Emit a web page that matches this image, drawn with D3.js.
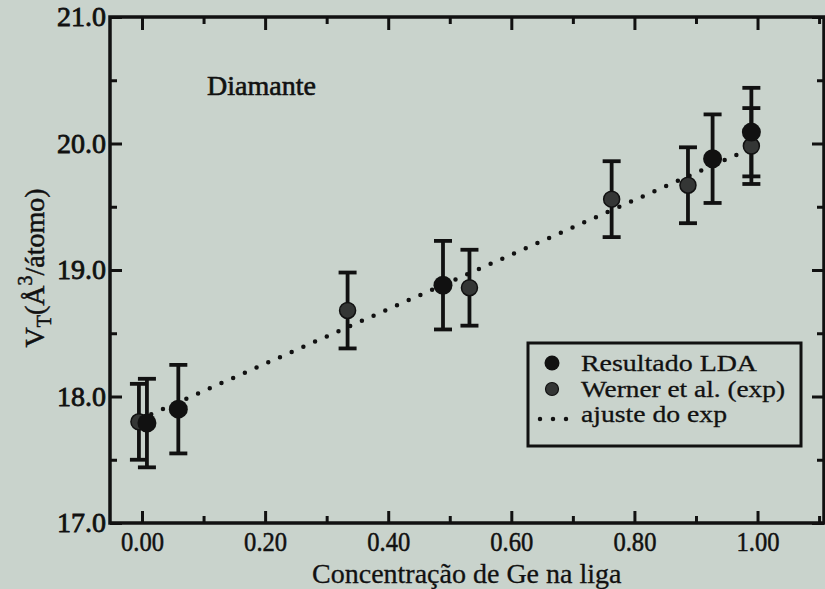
<!DOCTYPE html>
<html>
<head>
<meta charset="utf-8">
<script src="https://cdn.jsdelivr.net/npm/d3@7"></script>
<style>
  html, body { margin: 0; padding: 0; background: #c9d3cc; }
  svg { display: block; }
  text { font-family: "Liberation Serif", "Times New Roman", serif; fill: #111; }
</style>
</head>
<body>
<svg id="chart" width="825" height="589"></svg>
<script>
// Volume per atom vs. Ge concentration (diamond structure)
const ldaX   = [0.008, 0.059, 0.489, 0.927, 0.990];
const ldaY   = [17.79, 17.90, 18.88, 19.88, 20.09];
const ldaErr = [0.35, 0.35, 0.35, 0.35, 0.35];

const expX   = [-0.005, 0.334, 0.532, 0.763, 0.887, 0.990];
const expY   = [17.80, 18.68, 18.86, 19.56, 19.67, 19.98];
const expErr = [0.30, 0.30, 0.30, 0.30, 0.30, 0.30];

// linear fit of the experimental data (end points)
const fitX = [0.015, 0.975];
const fitY = [17.86, 19.93];

const xTicks = [0, 0.2, 0.4, 0.6, 0.8, 1.0];
const xMinor = [0.1, 0.3, 0.5, 0.7, 0.9, 1.1];
const yTicks = [17, 18, 19, 20, 21];
const yMinor = [17.5, 18.5, 19.5, 20.5];

const legendLabels = ["Resultado LDA", "Werner et al. (exp)", "ajuste do exp"];
const legendWidths = [176, 204, 146];

const svg = d3.select("#chart");
const L = 110, R = 824, T = 17, B = 523;

const x = d3.scaleLinear().domain([-0.052, 1.108]).range([L, R]);
const y = d3.scaleLinear().domain([17, 21]).range([B, T]);

const ink = "#111";
const expFill = "#343635";

function styleAxis(g) {
  g.select(".domain").remove();
  g.selectAll(".tick line").attr("stroke", ink).attr("stroke-width", 3);
}

// bottom axis with labels
const gx = svg.append("g").attr("transform", `translate(0,${B})`)
  .call(d3.axisBottom(x).tickValues(xTicks).tickSize(-12).tickPadding(9).tickFormat(d3.format(".2f")));
styleAxis(gx);
gx.selectAll(".tick text").attr("font-size", 27).attr("fill", ink)
  .attr("font-family", "Liberation Serif, serif")
  .attr("textLength", 43).attr("lengthAdjust", "spacingAndGlyphs")
  .attr("stroke", ink).attr("stroke-width", 0.5);

const gxm = svg.append("g").attr("transform", `translate(0,${B})`)
  .call(d3.axisBottom(x).tickValues(xMinor).tickSize(-7).tickFormat(""));
styleAxis(gxm);

// top axis
const gt = svg.append("g").attr("transform", `translate(0,${T})`)
  .call(d3.axisTop(x).tickValues(xTicks).tickSize(-13).tickFormat(""));
styleAxis(gt);
const gtm = svg.append("g").attr("transform", `translate(0,${T})`)
  .call(d3.axisTop(x).tickValues(xMinor).tickSize(-7).tickFormat(""));
styleAxis(gtm);

// left axis with labels
const gy = svg.append("g").attr("transform", `translate(${L},0)`)
  .call(d3.axisLeft(y).tickValues(yTicks).tickSize(-12).tickPadding(4).tickFormat(d3.format(".1f")));
styleAxis(gy);
gy.selectAll(".tick text").attr("font-size", 28).attr("fill", ink)
  .attr("font-family", "Liberation Serif, serif")
  .attr("stroke", ink).attr("stroke-width", 0.8);

const gym = svg.append("g").attr("transform", `translate(${L},0)`)
  .call(d3.axisLeft(y).tickValues(yMinor).tickSize(-7).tickFormat(""));
styleAxis(gym);

// right axis
const gr = svg.append("g").attr("transform", `translate(${R},0)`)
  .call(d3.axisRight(y).tickValues(yTicks).tickSize(-12).tickFormat(""));
styleAxis(gr);
const grm = svg.append("g").attr("transform", `translate(${R},0)`)
  .call(d3.axisRight(y).tickValues(yMinor).tickSize(-7).tickFormat(""));
styleAxis(grm);

// frame
svg.append("rect").attr("x", L).attr("y", T).attr("width", R - L).attr("height", B - T)
  .attr("fill", "none").attr("stroke", ink).attr("stroke-width", 3.5);

// fit line (dotted)
svg.append("line")
  .attr("x1", x(fitX[0])).attr("y1", y(fitY[0]))
  .attr("x2", x(fitX[1])).attr("y2", y(fitY[1]))
  .attr("stroke", ink).attr("stroke-width", 4.5)
  .attr("stroke-linecap", "round").attr("stroke-dasharray", "0 12.8");

// error bars
function errorBars(xs, ys, es, cls) {
  const data = xs.map((v, i) => ({ x: v, y: ys[i], e: es[i] }));
  const g = svg.append("g").attr("class", cls).attr("stroke", ink).attr("stroke-width", 3.8);
  g.selectAll("line.v").data(data).join("line").attr("class", "v")
    .attr("x1", d => x(d.x)).attr("x2", d => x(d.x))
    .attr("y1", d => y(d.y + d.e)).attr("y2", d => y(d.y - d.e));
  g.selectAll("line.top").data(data).join("line").attr("class", "top")
    .attr("x1", d => x(d.x) - 9).attr("x2", d => x(d.x) + 9)
    .attr("y1", d => y(d.y + d.e)).attr("y2", d => y(d.y + d.e));
  g.selectAll("line.bot").data(data).join("line").attr("class", "bot")
    .attr("x1", d => x(d.x) - 9).attr("x2", d => x(d.x) + 9)
    .attr("y1", d => y(d.y - d.e)).attr("y2", d => y(d.y - d.e));
  return data;
}
const expData = errorBars(expX, expY, expErr, "exp-err");
const ldaData = errorBars(ldaX, ldaY, ldaErr, "lda-err");

// markers
svg.append("g").selectAll("circle").data(expData).join("circle")
  .attr("cx", d => x(d.x)).attr("cy", d => y(d.y)).attr("r", 8)
  .attr("fill", expFill).attr("stroke", ink).attr("stroke-width", 1.5);
svg.append("g").selectAll("circle").data(ldaData).join("circle")
  .attr("cx", d => x(d.x)).attr("cy", d => y(d.y)).attr("r", 9.5)
  .attr("fill", ink);

// panel label
svg.append("text").attr("x", 207).attr("y", 95).attr("font-size", 28)
  .attr("stroke", ink).attr("stroke-width", 0.6).text("Diamante");

// axis titles
svg.append("text").attr("x", (x(0) + x(1)) / 2 + 17).attr("y", 583)
  .attr("text-anchor", "middle").attr("font-size", 28)
  .attr("stroke", ink).attr("stroke-width", 0.3)
  .text("Concentração de Ge na liga");

const yt = svg.append("text")
  .attr("transform", "translate(44,268) rotate(-90)")
  .attr("text-anchor", "middle").attr("font-size", 28)
  .attr("stroke", ink).attr("stroke-width", 0.5);
yt.append("tspan").text("V");
yt.append("tspan").attr("font-size", 20).attr("dy", 7).text("T");
yt.append("tspan").attr("dy", -7).text("(Å");
yt.append("tspan").attr("font-size", 20).attr("dy", -12).text("3");
yt.append("tspan").attr("dy", 12).text("/átomo)");

// legend
const lg = svg.append("g");
lg.append("rect").attr("x", 528).attr("y", 343).attr("width", 273).attr("height", 103)
  .attr("fill", "none").attr("stroke", ink).attr("stroke-width", 3);
lg.append("circle").attr("cx", 552).attr("cy", 363).attr("r", 7.5).attr("fill", ink);
lg.append("circle").attr("cx", 552).attr("cy", 389).attr("r", 6.5)
  .attr("fill", expFill).attr("stroke", ink).attr("stroke-width", 1.2);
lg.append("line").attr("x1", 540).attr("x2", 567).attr("y1", 419).attr("y2", 419)
  .attr("stroke", ink).attr("stroke-width", 4.5).attr("stroke-linecap", "round")
  .attr("stroke-dasharray", "0 13");
lg.selectAll("text").data(legendLabels).join("text")
  .attr("x", 581).attr("y", (d, i) => 371 + i * 25.5)
  .attr("font-size", 24)
  .attr("textLength", (d, i) => legendWidths[i]).attr("lengthAdjust", "spacingAndGlyphs")
  .attr("stroke", ink).attr("stroke-width", 0.3)
  .text(d => d);
</script>
</body>
</html>
